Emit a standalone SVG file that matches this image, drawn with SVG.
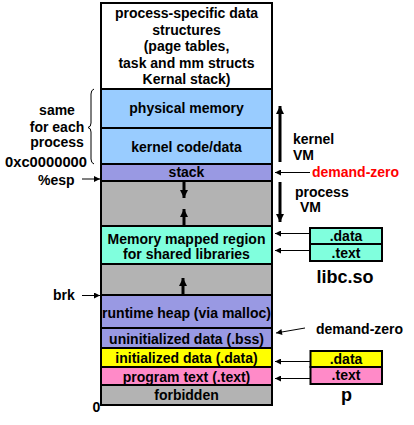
<svg xmlns="http://www.w3.org/2000/svg" width="414" height="425" viewBox="0 0 414 425">
<defs>
<style>
text{font-family:"Liberation Sans",Arial,sans-serif;font-weight:bold;font-size:14px;fill:#000}
.c{text-anchor:middle}
.band{stroke:#000;stroke-width:2}
.thin{stroke:#000;stroke-width:1;fill:none}
.thick{stroke:#000;stroke-width:3;fill:none}
.big{font-size:18px}
</style>
<marker id="ah" viewBox="0 0 10 10" refX="10" refY="5" markerWidth="7" markerHeight="6" markerUnits="userSpaceOnUse" orient="auto"><path d="M0,0L10,5L0,10z" fill="#000"/></marker>
<marker id="ahb" viewBox="0 0 10 10" refX="10" refY="5" markerWidth="8" markerHeight="9" markerUnits="userSpaceOnUse" orient="auto"><path d="M0,0L10,5L0,10z" fill="#000"/></marker>
</defs>
<rect width="414" height="425" fill="#fff"/>
<g id="kernel-ds"><rect class="band" x="101" y="3" width="171" height="86" fill="#fff"/>
<text class="c" x="186.5" y="18">process-specific data</text>
<text class="c" x="186.5" y="34.5">structures</text>
<text class="c" x="186.5" y="51">(page tables,</text>
<text class="c" x="186.5" y="67.5">task and mm structs</text>
<text class="c" x="186.5" y="84">Kernal stack)</text></g>
<g id="physmem"><rect class="band" x="101" y="89" width="171" height="39" fill="#99CCFF"/><text class="c" x="186.5" y="113">physical memory</text></g>
<g id="kcode"><rect class="band" x="101" y="128" width="171" height="36" fill="#99CCFF"/><text class="c" x="186.5" y="151.5">kernel code/data</text></g>
<g id="stack"><rect class="band" x="101" y="164" width="171" height="17" fill="#9999E3"/><text class="c" x="186.5" y="177">stack</text></g>
<g id="gap1"><rect class="band" x="101" y="181" width="171" height="45" fill="#B3B3B3"/></g>
<g id="mmap"><rect class="band" x="101" y="226" width="171" height="38" fill="#80FFDD"/><text class="c" x="186.5" y="243.5">Memory mapped region</text><text class="c" x="186.5" y="258.5">for shared libraries</text></g>
<g id="gap2"><rect class="band" x="101" y="264" width="171" height="31" fill="#B3B3B3"/></g>
<g id="heap"><rect class="band" x="101" y="295" width="171" height="33" fill="#9999E3"/><text class="c" x="186.5" y="318">runtime heap (via malloc)</text></g>
<g id="bss"><rect class="band" x="101" y="328" width="171" height="20" fill="#9999E3"/><text class="c" x="186.5" y="343.5">uninitialized data (.bss)</text></g>
<g id="data"><rect class="band" x="101" y="348" width="171" height="19" fill="#FFFF00"/><text class="c" x="186.5" y="362.5">initialized data (.data)</text></g>
<g id="text"><rect class="band" x="101" y="367" width="171" height="18" fill="#FF8AC8"/><text class="c" x="186.5" y="381.5">program text (.text)</text></g>
<g id="forbidden"><rect class="band" x="101" y="385" width="171" height="20" fill="#B3B3B3"/><text class="c" x="186.5" y="400">forbidden</text></g>
<g id="libc"><rect class="band" x="310" y="228" width="72" height="16" fill="#80FFDD" stroke-width="1.5"/><text class="c" x="346" y="241">.data</text>
<rect class="band" x="310" y="244" width="72" height="17" fill="#80FFDD" stroke-width="1.5"/><text class="c" x="346" y="257.5">.text</text>
<text class="c big" x="345" y="283">libc.so</text></g>
<g id="p"><rect class="band" x="310.5" y="351" width="71.5" height="16" fill="#FFFF00" stroke-width="1.5"/><text class="c" x="346" y="364">.data</text>
<rect class="band" x="310.5" y="367" width="71.5" height="17" fill="#FF8AC8" stroke-width="1.5"/><text class="c" x="346" y="380">.text</text>
<text class="c big" x="346.5" y="401">p</text></g>
<g id="labels">
<text class="c" x="57" y="115">same</text>
<text class="c" x="57" y="131.5">for each</text>
<text class="c" x="57" y="147">process</text>
<text x="5" y="166.5" textLength="82" lengthAdjust="spacingAndGlyphs">0xc0000000</text>
<text x="38" y="185">%esp</text>
<text x="53" y="300">brk</text>
<text x="92.5" y="412">0</text>
<text x="293" y="144">kernel</text>
<text x="293" y="160">VM</text>
<text x="295" y="197">process</text>
<text x="300" y="212">VM</text>
<text x="312" y="177" style="fill:#FF0000">demand-zero</text>
<text x="316" y="334">demand-zero</text>
</g>
<g id="connectors">
<path class="thin" d="M94,89 Q91,90 91,94 L91,123 Q91,127 88,127.5 Q91,128 91,132 L91,159 Q91,163 94,164"/>
<line class="thin" x1="82" y1="179" x2="100" y2="179" marker-end="url(#ah)"/>
<line class="thin" x1="82" y1="295.5" x2="100" y2="295.5" marker-end="url(#ah)"/>
<line class="thick" x1="280" y1="162" x2="280" y2="106" marker-end="url(#ahb)"/>
<line class="thick" x1="280" y1="182" x2="280" y2="222" marker-end="url(#ahb)"/>
<line class="thin" x1="310" y1="172.5" x2="275" y2="172.5" marker-end="url(#ah)"/>
<line class="thin" x1="310" y1="233.5" x2="275" y2="233.5" marker-end="url(#ah)"/>
<line class="thin" x1="310" y1="250.5" x2="275" y2="250.5" marker-end="url(#ah)"/>
<line class="thin" x1="305" y1="328" x2="276" y2="333" marker-end="url(#ah)"/>
<line class="thin" x1="310" y1="361.5" x2="275" y2="361.5" marker-end="url(#ah)"/>
<line class="thin" x1="310" y1="378.5" x2="275" y2="378.5" marker-end="url(#ah)"/>
<line class="thick" x1="184" y1="182" x2="184" y2="198" marker-end="url(#ahb)"/>
<line class="thick" x1="184" y1="225" x2="184" y2="209" marker-end="url(#ahb)"/>
<line class="thick" x1="183" y1="294" x2="183" y2="278" marker-end="url(#ahb)"/>
</g>
</svg>
